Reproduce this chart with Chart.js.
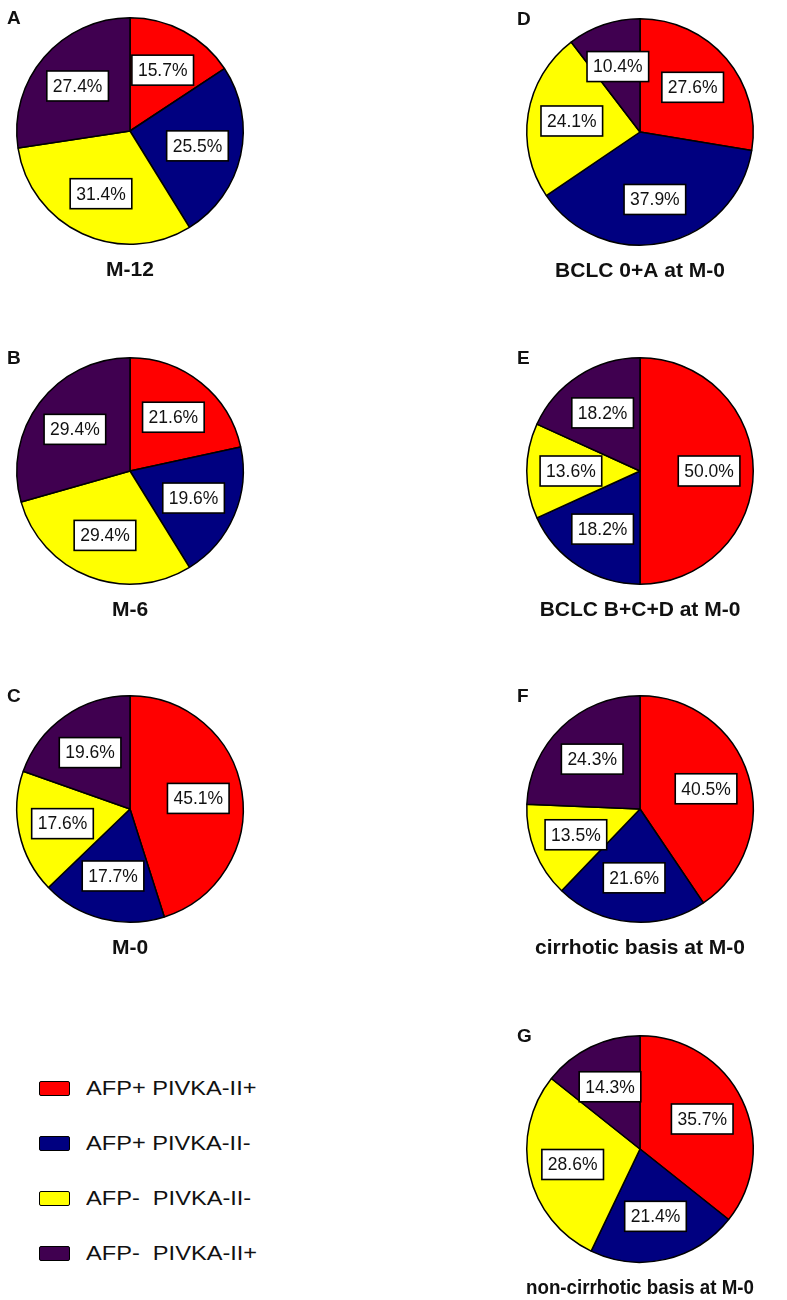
<!DOCTYPE html>
<html>
<head>
<meta charset="utf-8">
<script src="https://cdn.jsdelivr.net/npm/chart.js@4.4.1/dist/chart.umd.min.js"></script>
<style>
  body{
    margin:0;
    background:#fff;
    width:787px;
    height:1300px;
    position:relative;
    overflow:hidden;
    font-family:"Liberation Sans", Arial, sans-serif;
  }
  canvas{ position:absolute; }
  .legend-item{
    position:absolute;
    left:39px;
    height:20px;
    display:flex;
    align-items:center;
  }
  .legend-box{
    width:29px;
    height:13px;
    border:1.5px solid #000;
    border-radius:2px;
  }
  .legend-text{
    margin-left:16px;
    font-size:20px;
    white-space:pre;
    color:#111;
    transform:scaleX(1.18);
    transform-origin:left center;
  }
</style>
</head>
<body>

<script>

// slice order: clockwise from 12 o'clock
const groups = [
    "AFP+ PIVKA-II+",
    "AFP+ PIVKA-II-",
    "AFP-  PIVKA-II-",
    "AFP-  PIVKA-II+"
];

const colors = ["#ff0000", "#000080", "#ffff00", "#400050"];

// percentages
const m12          = [15.7, 25.5, 31.4, 27.4];
const m6           = [21.6, 19.6, 29.4, 29.4];
const m0           = [45.1, 17.7, 17.6, 19.6];
const bclcEarlyM0  = [27.6, 37.9, 24.1, 10.4];
const bclcLateM0   = [50.0, 18.2, 13.6, 18.2];
const cirrhoticM0  = [40.5, 21.6, 13.5, 24.3];
const nonCirrhM0   = [35.7, 21.4, 28.6, 14.3];

const panelLetters = ["A", "B", "C", "D", "E", "F", "G"];

const panelTitles = [
    "M-12",
    "M-6",
    "M-0",
    "BCLC 0+A at M-0",
    "BCLC B+C+D at M-0",
    "cirrhotic basis at M-0",
    "non-cirrhotic basis at M-0"
];

const panelData = [m12, m6, m0, bclcEarlyM0, bclcLateM0, cirrhoticM0, nonCirrhM0];

// canvas placement (left, top) for each panel
const panelPos = [
    [0, 0], [0, 340], [0, 678],
    [510, 1], [510, 340], [510, 678], [510, 1018]
];

const FONT = '"Liberation Sans", Arial, sans-serif';

Chart.defaults.font.family = FONT;
Chart.defaults.color = "#000";


// white boxed percentage labels
const boxLabels = {
    id: "boxLabels",
    afterDatasetsDraw(chart){

        const ctx = chart.ctx;
        const meta = chart.getDatasetMeta(0);
        const values = chart.data.datasets[0].data;

        ctx.save();
        ctx.font = "17.5px " + FONT;
        ctx.textAlign = "center";
        ctx.textBaseline = "middle";

        meta.data.forEach((arc, i) => {

            const mid = (arc.startAngle + arc.endAngle) / 2;
            const r = arc.outerRadius * 0.61;
            const x = arc.x + Math.cos(mid) * r;
            const y = arc.y + Math.sin(mid) * r;

            const text = values[i].toFixed(1) + "%";
            const w = ctx.measureText(text).width + 12;
            const h = 30;

            ctx.fillStyle = "#fff";
            ctx.fillRect(x - w / 2, y - h / 2, w, h);
            ctx.lineWidth = 1.6;
            ctx.strokeStyle = "#000";
            ctx.strokeRect(x - w / 2, y - h / 2, w, h);

            ctx.fillStyle = "#111";
            ctx.fillText(text, x, y + 1);
        });

        ctx.restore();
    }
};

// panel letter at top left
const panelLetter = {
    id: "panelLetter",
    afterDraw(chart, args, opts){

        const ctx = chart.ctx;
        ctx.save();
        ctx.font = "bold 19px " + FONT;
        ctx.textAlign = "left";
        ctx.textBaseline = "top";
        ctx.fillStyle = "#111";
        ctx.fillText(opts.text, chart.chartArea.left - 9, chart.chartArea.top - 8);
        ctx.restore();
    }
};


panelData.forEach((values, i) => {

    const canvas = document.createElement("canvas");
    canvas.width = 260;
    canvas.height = 290;
    canvas.style.left = panelPos[i][0] + "px";
    canvas.style.top = panelPos[i][1] + "px";
    document.body.appendChild(canvas);

    new Chart(canvas, {

        type: "pie",

        data: {
            labels: groups,
            datasets: [{
                data: values,
                backgroundColor: colors,
                borderColor: "#000",
                borderWidth: 1.5
            }]
        },

        options: {
            responsive: false,
            animation: false,
            layout: {
                padding: { top: 17, left: 16, right: 16, bottom: 0 }
            },
            plugins: {
                legend: { display: false },
                tooltip: { enabled: false },
                title: {
                    display: true,
                    position: "bottom",
                    text: panelTitles[i],
                    color: "#111",
                    font: { size: 21, weight: "bold" },
                    padding: { top: 12.4, bottom: 7.4 }
                },
                panelLetter: { text: panelLetters[i] }
            }
        },

        plugins: [boxLabels, panelLetter]
    });
});


// legend
const legendTops = [1078, 1133, 1188, 1243];

groups.forEach((name, i) => {

    const item = document.createElement("div");
    item.className = "legend-item";
    item.style.top = legendTops[i] + "px";

    const box = document.createElement("div");
    box.className = "legend-box";
    box.style.background = colors[i];

    const label = document.createElement("span");
    label.className = "legend-text";
    label.textContent = name;

    item.appendChild(box);
    item.appendChild(label);
    document.body.appendChild(item);
});

</script>
</body>
</html>
